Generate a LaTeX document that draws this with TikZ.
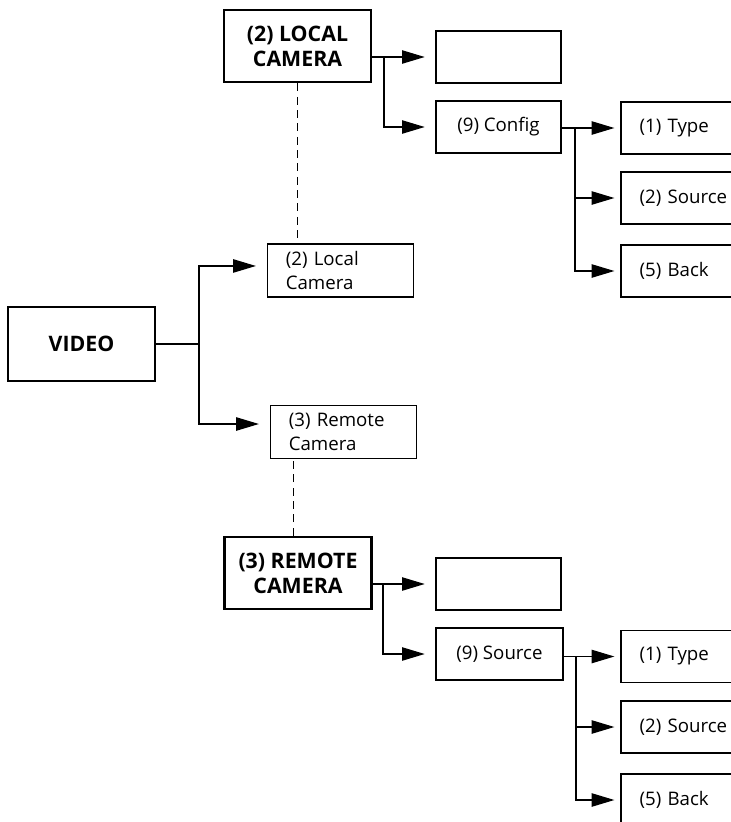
\documentclass[tikz,border=0pt]{standalone}
\usepackage{fontspec}
\setmainfont{Open Sans}
\usetikzlibrary{arrows.meta}
\begin{document}
\begin{tikzpicture}[x=0.75pt,y=-0.75pt,
  box/.style={draw,line width=0.9pt,minimum width=93.75pt,minimum height=39pt,inner sep=0pt,
    font=\fontsize{14}{18}\selectfont},
  leftbox/.style={box,inner xsep=14pt,text width=65.75pt,align=left},
  smallbox/.style={draw,line width=0.9pt,minimum height=39.75pt,inner xsep=14pt,inner ysep=2pt,
    text width=82pt,align=left,font=\fontsize{14}{18}\selectfont},
  bigbox/.style={draw,line width=2.2pt,minimum width=110.25pt,minimum height=54pt,align=center,
    inner sep=0pt,font=\bfseries\fontsize{16}{18.75}\selectfont},
  conn/.style={line width=0.9pt},
  arr/.style={conn,-{Triangle[length=17pt,width=10pt]},shorten >=8pt},
  arrs/.style={conn,-{Triangle[length=17pt,width=10pt]},shorten >=4.5pt},
  dline/.style={line width=0.9pt,dash pattern=on 6pt off 4pt}]
\useasboundingbox (0,0) rectangle (731,822);
\clip (0,0) rectangle (731,822);

% left
\node[bigbox,minimum height=55.5pt] (V) at (81.5,344) {VIDEO};
\node[smallbox] (LC) at (340.5,270.5) {(2) Local\\Camera};
\node[smallbox] (RC) at (343.5,432) {(3) Remote\\Camera};

% top block
\node[bigbox] (L) at (297.5,46) {(2) LOCAL\\CAMERA};
\node[box] (E1) at (498.5,57) {};
\node[box] (C) at (498.5,127) {(9) Config};
\node[leftbox] (T1) at (683.5,128) {(1) Type};
\node[leftbox] (S1) at (683.5,198) {(2) Source};
\node[leftbox] (B1) at (683.5,271) {(5) Back};

% bottom block
\node[bigbox] (R) at (298,573) {(3) REMOTE\\CAMERA};
\node[box] (E2) at (498.5,584) {};
\node[box,minimum width=95.25pt] (S9) at (499.5,654) {(9) Source};
\node[leftbox] (T2) at (683.5,656.5) {(1) Type};
\node[leftbox] (S2) at (683.5,727) {(2) Source};
\node[leftbox] (B2) at (683.5,800) {(5) Back};

% branch points
\coordinate (bV) at (199,344);
\coordinate (bL) at (384,57);
\coordinate (bC) at (575,128);
\coordinate (bR) at (383,584);
\coordinate (bS) at (576,656.5);

% video connectors
\draw[conn] (V.east) -- (bV);
\draw[arr] (bV) |- ([yshift=3.4pt]LC.west);
\draw[arr] (bV) |- ([yshift=6pt]RC.west);

% dashed links
\draw[dline] (L.south) -- (L.south |- LC.north);
\draw[dline] ([xshift=-3.5pt]R.north) -- ([xshift=-3.5pt]R.north |- RC.south);

% top connectors
\draw[arr] (L.east |- E1.west) -- (E1.west);
\draw[arr] (bL) |- (C.west);
\draw[arrs] (C.east |- T1.west) -- (T1.west);
\draw[arrs] (bC) |- (S1.west);
\draw[arrs] (bC) |- (B1.west);

% bottom connectors
\draw[arr] (R.east |- E2.west) -- (E2.west);
\draw[arr] (bR) |- (S9.west);
\draw[arrs] (S9.east |- T2.west) -- (T2.west);
\draw[arrs] (bS) |- (S2.west);
\draw[arrs] (bS) |- (B2.west);
\end{tikzpicture}
\end{document}
